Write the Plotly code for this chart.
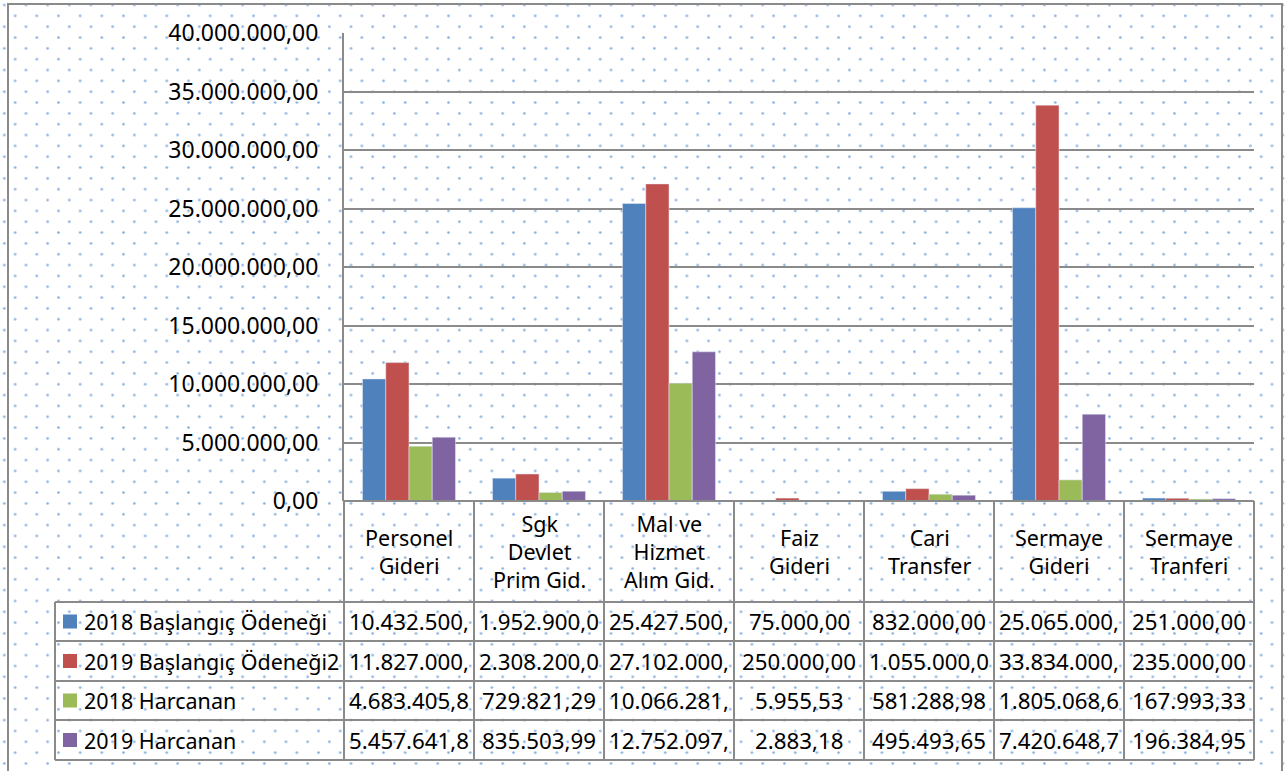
import base64
import plotly.graph_objects as go

W, H = 1287, 771

categories = ["Personel<br>Gideri", "Sgk<br>Devlet<br>Prim Gid.", "Mal ve<br>Hizmet<br>Alım Gid.",
              "Faiz<br>Gideri", "Cari<br>Transfer", "Sermaye<br>Gideri", "Sermaye<br>Tranferi"]
series = ["2018 Başlangıç Ödeneği", "2019 Başlangıç Ödeneği2", "2018 Harcanan", "2019 Harcanan"]
odenek_2018 = [10432500.00, 1952900.00, 25427500.00, 75000.00, 832000.00, 25065000.00, 251000.00]
odenek_2019 = [11827000.00, 2308200.00, 27102000.00, 250000.00, 1055000.00, 33834000.00, 235000.00]
harcanan_2018 = [4683405.80, 729821.29, 10066281.00, 5955.53, 581288.98, 1805068.60, 167993.33]
harcanan_2019 = [5457641.80, 835503.99, 12752097.00, 2883.18, 495493.65, 7420648.70, 196384.95]
values = [odenek_2018, odenek_2019, harcanan_2018, harcanan_2019]
colors = ["#4F81BD", "#C0504D", "#9BBB59", "#8064A2"]

FONT = "Noto Sans"
LINE = "#8A8A8A"
TICK_SIZE = 23
NUM_SIZE = 22.3
TXT_SIZE = 21.5

# plot area and table geometry in pixels
PX0, PX1, PY0, PY1 = 344, 1254, 33, 501
TBL_LEFT = 55
ROWS = [602, 641, 681, 720, 760]


def X(px):
    return px / W


def Y(py):
    return 1 - py / H


def tr_fmt(v):
    s = f"{v:,.2f}".replace(",", "X").replace(".", ",").replace("X", ".")
    return s[:11]  # Excel clips long numbers in the cell


# dotted background
svg = f"""<svg xmlns='http://www.w3.org/2000/svg' width='{W}' height='{H}'>
<defs><pattern id='d' patternUnits='userSpaceOnUse' x='-1.1' y='-0.4' width='21.67' height='21.67'>
<circle cx='5.4' cy='5.4' r='1.3' fill='#6F9FDB' fill-opacity='0.85'/>
<circle cx='16.25' cy='16.25' r='1.3' fill='#6F9FDB' fill-opacity='0.85'/>
</pattern></defs>
<rect width='{W}' height='{H}' fill='white'/>
<rect width='{W}' height='{H}' fill='url(#d)'/>
</svg>"""
bg = "data:image/svg+xml;base64," + base64.b64encode(svg.encode()).decode()

fig = go.Figure()
for name, vals, col in zip(series, values, colors):
    fig.add_trace(go.Bar(x=categories, y=vals, name=name, marker_color=col,
                         hovertemplate="%{x}<br>%{y:,.2f}<extra>" + name + "</extra>"))

shapes = []
annotations = []
ncol = len(categories)
cw = (PX1 - PX0) / ncol

# table lines
for i in range(ncol + 1):
    shapes.append(dict(type="line", xref="paper", yref="paper", x0=X(PX0 + i * cw), x1=X(PX0 + i * cw),
                       y0=Y(PY1), y1=Y(ROWS[-1]), line=dict(color=LINE, width=2)))
shapes.append(dict(type="line", xref="paper", yref="paper", x0=X(TBL_LEFT), x1=X(TBL_LEFT),
                   y0=Y(ROWS[0]), y1=Y(ROWS[-1]), line=dict(color=LINE, width=2)))
shapes.append(dict(type="line", xref="paper", yref="paper", x0=X(PX0), x1=X(PX1),
                   y0=Y(PY1), y1=Y(PY1), line=dict(color=LINE, width=2)))
for r in ROWS:
    shapes.append(dict(type="line", xref="paper", yref="paper", x0=X(TBL_LEFT), x1=X(PX1),
                       y0=Y(r), y1=Y(r), line=dict(color=LINE, width=2)))
# outer chart border
shapes.append(dict(type="rect", xref="paper", yref="paper", x0=X(8), x1=X(1282), y0=-0.05, y1=Y(4),
                   line=dict(color=LINE, width=2)))

# header row: category names
for i, c in enumerate(categories):
    annotations.append(dict(text=c, xref="paper", yref="paper", x=X(PX0 + (i + 0.5) * cw),
                            y=Y((PY1 + ROWS[0]) / 2), showarrow=False, xanchor="center", yanchor="middle",
                            font=dict(family=FONT, size=TXT_SIZE, color="black")))

# data rows
for k, (name, vals, col) in enumerate(zip(series, values, colors)):
    yc = (ROWS[k] + ROWS[k + 1]) / 2
    shapes.append(dict(type="rect", xref="paper", yref="paper", x0=X(63), x1=X(77),
                       y0=Y(yc + 7), y1=Y(yc - 7), fillcolor=col, line=dict(width=0)))
    annotations.append(dict(text=name, xref="paper", yref="paper", x=X(82), y=Y(yc), showarrow=False,
                            xanchor="left", yanchor="middle",
                            font=dict(family=FONT, size=TXT_SIZE, color="black")))
    for i, v in enumerate(vals):
        annotations.append(dict(text=tr_fmt(v), xref="paper", yref="paper", x=X(PX0 + (i + 0.5) * cw),
                                y=Y(yc), showarrow=False, xanchor="center", yanchor="middle",
                                font=dict(family=FONT, size=NUM_SIZE, color="black")))

fig.update_layout(
    width=W, height=H,
    margin=dict(l=0, r=0, t=0, b=0, autoexpand=False),
    paper_bgcolor="white",
    plot_bgcolor="rgba(0,0,0,0)",
    separators=",.",
    barmode="group", bargap=0.285, bargroupgap=0,
    showlegend=False,
    font=dict(family=FONT, size=22, color="black"),
    xaxis=dict(domain=[X(PX0), X(PX1)], showticklabels=False, showgrid=False, zeroline=False,
               showline=False, fixedrange=True, automargin=False),
    yaxis=dict(domain=[Y(PY1), Y(PY0)], range=[0, 40000000], dtick=5000000, tickformat=",.2f",
               showgrid=True, gridcolor=LINE, gridwidth=1.5, zeroline=False,
               showline=True, linecolor=LINE, linewidth=2, automargin=False,
               ticks="", ticklabelstandoff=19,
               tickfont=dict(family=FONT, size=TICK_SIZE, color="black"), fixedrange=True),
    shapes=shapes,
    annotations=annotations,
    images=[dict(source=bg, xref="paper", yref="paper", x=0, y=1, sizex=1, sizey=1,
                 xanchor="left", yanchor="top", sizing="stretch", layer="below")],
)

# the page body has a default 8px margin; drop it so the chart sits at the window origin
fig.write_html("out.html", config={"displayModeBar": False},
               post_script="document.body.style.margin='0';")
